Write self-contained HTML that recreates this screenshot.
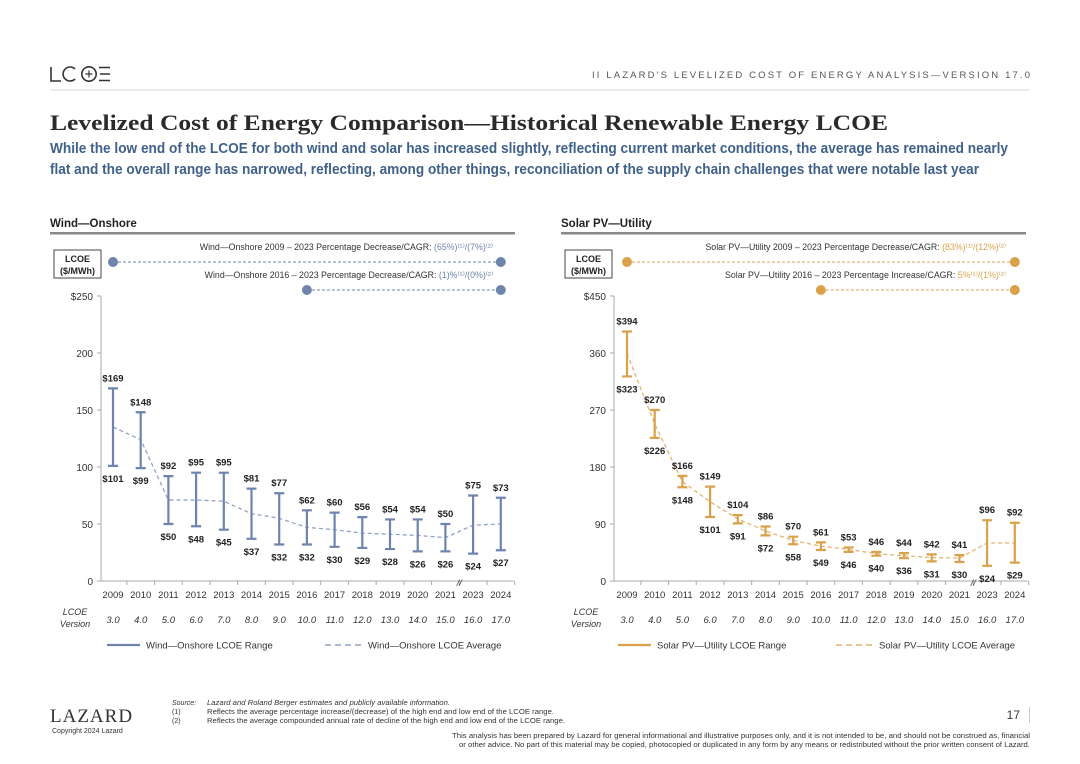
<!DOCTYPE html>
<html><head><meta charset="utf-8">
<style>
body{margin:0;background:#fff;}
svg{display:block;font-family:"Liberation Sans",Arial,sans-serif;}
</style></head>
<body>
<svg id="page" width="1080" height="764" viewBox="0 0 1080 764" xmlns="http://www.w3.org/2000/svg">
  <g fill="none" stroke="#333" stroke-width="1.6">
    <path d="M51 67 V81 H61"/>
    <path d="M75 69 A7 7 0 1 0 75 79"/>
    <circle cx="89" cy="74" r="7.2"/>
    <path d="M89 70.5 V77.5 M85.5 74 H92.5" stroke-width="1.2"/>
    <path d="M99 67.5 H110 M100 74 H110 M99 80.5 H110"/>
  </g>
  <text x="592" y="78" font-size="9.5" fill="#555" textLength="438" lengthAdjust="spacing">II   LAZARD'S LEVELIZED COST OF ENERGY ANALYSIS—VERSION 17.0</text>
  <rect x="50" y="89" width="980" height="2" fill="#e8e8ee"/>
  <text x="50" y="130" font-family="Liberation Serif,serif" font-size="22" font-weight="bold" fill="#2a2a2a" textLength="838" lengthAdjust="spacingAndGlyphs">Levelized Cost of Energy Comparison—Historical Renewable Energy LCOE</text>
  <text x="50" y="153" font-size="14.5" font-weight="bold" fill="#3f6189" textLength="958" lengthAdjust="spacingAndGlyphs">While the low end of the LCOE for both wind and solar has increased slightly, reflecting current market conditions, the average has remained nearly</text>
  <text x="50" y="174" font-size="14.5" font-weight="bold" fill="#3f6189" textLength="929" lengthAdjust="spacingAndGlyphs">flat and the overall range has narrowed, reflecting, among other things, reconciliation of the supply chain challenges that were notable last year</text>
  <g id="wind"></g>
  <g id="solar"></g>
  <g>
    <text x="50" y="722" font-family="Liberation Serif,serif" font-size="19" fill="#333" letter-spacing="1">LAZARD</text>
    <text x="52" y="733" font-size="7" fill="#333">Copyright 2024 Lazard</text>
    <text x="172" y="705" font-size="7" font-style="italic" fill="#333">Source:</text>
    <text x="207" y="705" font-size="7" font-style="italic" fill="#333" textLength="243" lengthAdjust="spacingAndGlyphs">Lazard and Roland Berger estimates and publicly available information.</text>
    <text x="172" y="714" font-size="7" fill="#333">(1)</text>
    <text x="207" y="714" font-size="7" fill="#333" textLength="347" lengthAdjust="spacingAndGlyphs">Reflects the average percentage increase/(decrease) of the high end and low end of the LCOE range.</text>
    <text x="172" y="723" font-size="7" fill="#333">(2)</text>
    <text x="207" y="723" font-size="7" fill="#333" textLength="358" lengthAdjust="spacingAndGlyphs">Reflects the average compounded annual rate of decline of the high end and low end of the LCOE range.</text>
    <text x="1020" y="719" text-anchor="end" font-size="12" fill="#333">17</text>
    <rect x="1029" y="707" width="1" height="16" fill="#ccc"/>
    <text x="452" y="738" font-size="7" fill="#333" textLength="578" lengthAdjust="spacingAndGlyphs">This analysis has been prepared by Lazard for general informational and illustrative purposes only, and it is not intended to be, and should not be construed as, financial</text>
    <text x="459" y="747" font-size="7" fill="#333" textLength="571" lengthAdjust="spacingAndGlyphs">or other advice. No part of this material may be copied, photocopied or duplicated in any form by any means or redistributed without the prior written consent of Lazard.</text>
  </g>
</svg>
<script>
const years = ["2009","2010","2011","2012","2013","2014","2015","2016","2017","2018","2019","2020","2021","2023","2024"];
const versions = ["3.0","4.0","5.0","6.0","7.0","8.0","9.0","10.0","11.0","12.0","13.0","14.0","15.0","16.0","17.0"];
const windHigh = [169,148,92,95,95,81,77,62,60,56,54,54,50,75,73];
const windLow = [101,99,50,48,45,37,32,32,30,29,28,26,26,24,27];
const windAvg = [135,124,71,71,70,59,55,47,45,42,41,40,38,49,50];
const windTicks = [0,50,100,150,200,250];
const solarHigh = [394,270,166,149,104,86,70,61,53,46,44,42,41,96,92];
const solarLow = [323,226,148,101,91,72,58,49,46,40,36,31,30,24,29];
const solarAvg = [359,248,157,125,98,79,64,55,50,43,40,37,36,60,60];
const solarTicks = [0,90,180,270,360,450];

const NS="http://www.w3.org/2000/svg";
function mk(parent,tag,attrs,text){const e=document.createElementNS(NS,tag);for(const k in attrs)e.setAttribute(k,attrs[k]);if(text!==undefined)e.textContent=text;parent.appendChild(e);return e;}

function chart(g,o){
  const x0=o.axisX, y0=581, yTop=296, vmax=o.ticks[o.ticks.length-1];
  const y=v=>y0-(v/vmax)*(y0-yTop);
  const x=i=>o.firstX+i*27.7;
  let e;
  e=mk(g,'text',{x:o.left,y:227,'font-size':11.5,'font-weight':'bold',fill:'#222'},o.title);
  
  e=mk(g,'rect',{x:o.left,y:232,width:465,height:2.5,fill:'#888'});
  
  e=mk(g,'rect',{x:o.left+4,y:250,width:47,height:28,fill:'#fff',stroke:'#444','stroke-width':1});
  
  e=mk(g,'text',{x:o.left+27.5,y:262,'text-anchor':'middle','font-size':9,'font-weight':'bold',fill:'#222'},'LCOE');
  
  e=mk(g,'text',{x:o.left+27.5,y:274,'text-anchor':'middle','font-size':9,'font-weight':'bold',fill:'#222'},'($/MWh)');
  
  const ann=[[o.ann1,o.ann1c,250,262,x(0)],[o.ann2,o.ann2c,278,290,x(7)]];
  ann.forEach((a,k)=>{
    const t=mk(g,'text',{x:o.annX,y:a[2],'text-anchor':'end','font-size':8.8,fill:'#333'});
    
    mk(t,'tspan',{},a[0]+' ');mk(t,'tspan',{fill:o.color},a[1]);
    const l=mk(g,'line',{x1:a[4],x2:x(14),y1:a[3],y2:a[3],stroke:o.color,'stroke-width':1,'stroke-dasharray':'3,2'});
    
    [a[4],x(14)].forEach(cx=>{const c=mk(g,'circle',{cx:cx,cy:a[3],r:5,fill:o.color});
      });
  });
  e=mk(g,'line',{x1:x0,x2:x0,y1:yTop,y2:y0,stroke:'#aaa','stroke-width':1});
  
  e=mk(g,'line',{x1:x0,x2:x(14)+13,y1:y0,y2:y0,stroke:'#aaa','stroke-width':1});
  
  o.ticks.forEach((t,i)=>{
    const tx=mk(g,'text',{x:x0-8,y:y(t)+4,'text-anchor':'end','font-size':10,fill:'#333'},(i===o.ticks.length-1?'$':'')+t);
    
    const tk=mk(g,'line',{x1:x0-4,x2:x0,y1:y(t),y2:y(t),stroke:'#aaa'});
    
  });
  years.forEach((yr,i)=>{
    const tk=mk(g,'line',{x1:x(i)+13.85,x2:x(i)+13.85,y1:y0,y2:y0+4,stroke:'#aaa'});
    
    const tl=mk(g,'text',{x:x(i),y:598,'text-anchor':'middle','font-size':9.5,fill:'#333'},yr);
    
    const vl=mk(g,'text',{x:x(i),y:623,'text-anchor':'middle','font-size':9.5,'font-style':'italic',fill:'#333'},versions[i]);
    
  });
  e=mk(g,'text',{x:x(12.5),y:586,'text-anchor':'middle','font-size':9,'font-style':'italic',fill:'#333'},'//');
  
  e=mk(g,'text',{x:o.left+25,y:615,'text-anchor':'middle','font-size':9,'font-style':'italic',fill:'#333'},'LCOE');
  
  e=mk(g,'text',{x:o.left+25,y:627,'text-anchor':'middle','font-size':9,'font-style':'italic',fill:'#333'},'Version');
  
  const pts=o.avg.map((v,i)=>x(i)+','+y(v)).join(' ');
  e=mk(g,'polyline',{points:pts,fill:'none',stroke:o.light,'stroke-width':1.3,'stroke-dasharray':'4,3'});
  
  o.high.forEach((h,i)=>{
    const l=o.low[i];
    const b=mk(g,'path',{d:`M${x(i)} ${y(h)} V${y(l)} M${x(i)-5} ${y(h)} H${x(i)+5} M${x(i)-5} ${y(l)} H${x(i)+5}`,stroke:o.color,'stroke-width':2.2,fill:'none'});
    
    const ht=mk(g,'text',{x:x(i),y:y(h)-7,'text-anchor':'middle','font-size':9.5,'font-weight':'bold',fill:'#222'},'$'+h);
    
    const lt=mk(g,'text',{x:x(i),y:y(l)+16,'text-anchor':'middle','font-size':9.5,'font-weight':'bold',fill:'#222'},'$'+l);
    
  });
  e=mk(g,'line',{x1:o.left+57,x2:o.left+90,y1:645,y2:645,stroke:o.color,'stroke-width':2.2});
  
  e=mk(g,'text',{x:o.left+96,y:648.5,'font-size':9.5,fill:'#333'},o.name+' LCOE Range');
  
  e=mk(g,'line',{x1:o.left+275,x2:o.left+312,y1:645,y2:645,stroke:o.light,'stroke-width':1.5,'stroke-dasharray':'6,4'});
  
  e=mk(g,'text',{x:o.left+318,y:648.5,'font-size':9.5,fill:'#333'},o.name+' LCOE Average');
  
}
chart(document.getElementById('wind'),{left:50,axisX:101,firstX:113,ticks:windTicks,high:windHigh,low:windLow,avg:windAvg,
  color:'#6f84ad',light:'#93a3c4',title:'Wind—Onshore',name:'Wind—Onshore',annX:493,
  ann1:'Wind—Onshore 2009 – 2023 Percentage Decrease/CAGR:',ann1c:'(65%)⁽¹⁾/(7%)⁽²⁾',
  ann2:'Wind—Onshore 2016 – 2023 Percentage Decrease/CAGR:',ann2c:'(1)%⁽¹⁾/(0%)⁽²⁾'});
chart(document.getElementById('solar'),{left:561,axisX:614,firstX:627,ticks:solarTicks,high:solarHigh,low:solarLow,avg:solarAvg,
  color:'#d9a24a',light:'#e0b470',title:'Solar PV—Utility',name:'Solar PV—Utility',annX:1006,
  ann1:'Solar PV—Utility 2009 – 2023 Percentage Decrease/CAGR:',ann1c:'(83%)⁽¹⁾/(12%)⁽²⁾',
  ann2:'Solar PV—Utility 2016 – 2023 Percentage Increase/CAGR:',ann2c:'5%⁽¹⁾/(1%)⁽²⁾'});
</script>
</body></html>
